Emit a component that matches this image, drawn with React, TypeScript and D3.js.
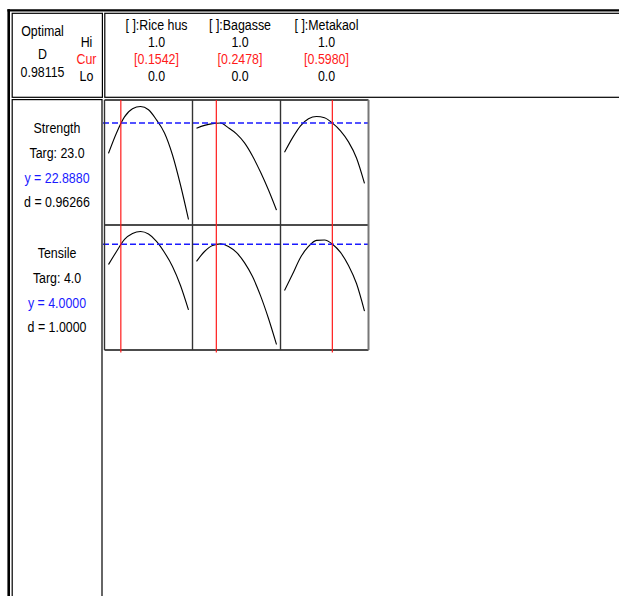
import { useMemo } from "react";
import * as d3 from "d3";

// values
const factors = ["Rice hus", "Bagasse", "Metakaol"];
const factorHi = [1.0, 1.0, 1.0];
const factorLo = [0.0, 0.0, 0.0];
const factorCur = [0.1542, 0.2478, 0.598];

const responses = ["Strength", "Tensile"];
const targets = [23.0, 4.0];
const predicted = [22.888, 4.0];
const desirability = [0.96266, 1.0];
const overallD = 0.98115;

const levels = [0, 0.1, 0.2, 0.3, 0.4, 0.5, 0.6, 0.7, 0.8, 0.9, 1.0];

const strengthRice = [20.85, 22.22, 23.3, 23.85, 24.0, 23.78, 23.1, 22.22, 20.74, 18.72, 16.4];
const strengthBagasse = [22.54, 22.73, 22.85, 22.89, 22.56, 22.16, 21.55, 20.67, 19.59, 18.38, 17.03];
const strengthMetakaol = [20.92, 21.89, 22.7, 23.17, 23.33, 23.24, 22.88, 22.36, 21.62, 20.54, 18.83];

const tensileRice = [3.36, 3.77, 4.15, 4.34, 4.4, 4.32, 4.09, 3.74, 3.3, 2.7, 1.93];
const tensileBagasse = [3.46, 3.77, 3.96, 4.01, 3.93, 3.74, 3.42, 2.98, 2.38, 1.66, 0.84];
const tensileMetakaol = [2.54, 3.05, 3.58, 3.93, 4.12, 4.13, 4.0, 3.74, 3.33, 2.76, 1.89];

const curves = [
  [strengthRice, strengthBagasse, strengthMetakaol],
  [tensileRice, tensileBagasse, tensileMetakaol],
];

// layout
const WIDTH = 619;
const HEIGHT = 596;
const GRID = { left: 104.5, right: 368.5, top: 100, rowH: 125 };
const PAD_X = 4;
const PAD_TOP = 6.5;
const PAD_BOTTOM = 5.5;
const HEADER_X = [156.5, 240, 326.5];
const HEADER_Y = [29.5, 46.5, 63.5, 80.5];
const RED = "#ff1a1a";
const BLUE = "#1a1aff";

// no Arial Narrow installed: squeeze Liberation Sans horizontally instead
const Label = ({ x, y, fill = "#000", children }: { x: number; y: number; fill?: string; children: any }) => (
  <text
    transform={`translate(${x},${y}) scale(0.8,1)`}
    textAnchor="middle"
    fontFamily="'Liberation Sans', Arial, sans-serif"
    fontSize={15.5}
    fill={fill}
  >
    {children}
  </text>
);

export default function App() {
  const cellW = (GRID.right - GRID.left) / factors.length;
  const gridBottom = GRID.top + GRID.rowH * responses.length;

  const xScales = useMemo(
    () =>
      factors.map((_, i) =>
        d3
          .scaleLinear()
          .domain([factorLo[i], factorHi[i]])
          .range([GRID.left + i * cellW + PAD_X, GRID.left + (i + 1) * cellW - PAD_X])
      ),
    [cellW]
  );

  const yScales = useMemo(
    () =>
      responses.map((_, r) => {
        const ext = d3.extent(curves[r].flat()) as [number, number];
        const top = GRID.top + r * GRID.rowH;
        return d3
          .scaleLinear()
          .domain(ext)
          .range([top + GRID.rowH - PAD_BOTTOM, top + PAD_TOP]);
      }),
    []
  );

  return (
    <svg
      width={WIDTH}
      height={HEIGHT}
      style={{ position: "absolute", left: 0, top: 0, background: "#fff" }}
    >
      <rect width={WIDTH} height={HEIGHT} fill="#fff" />

      {/* outer frame */}
      <line x1={8.7} x2={8.7} y1={9.3} y2={HEIGHT} stroke="#000" strokeWidth={2.6} />
      <line x1={7.4} x2={WIDTH} y1={10.4} y2={10.4} stroke="#000" strokeWidth={2.2} />

      {/* header boxes */}
      <rect x={12.2} y={13.3} width={90.2} height={84} fill="none" stroke="#000" strokeWidth={1.2} />
      <rect x={104.8} y={13.3} width={WIDTH} height={84} fill="none" stroke="#000" strokeWidth={1.2} />
      {/* lower left box */}
      <rect x={12.2} y={99.6} width={89.8} height={HEIGHT} fill="none" stroke="#000" strokeWidth={1.2} />

      {/* header left */}
      <Label x={42.5} y={36}>Optimal</Label>
      <Label x={42.5} y={59}>D</Label>
      <Label x={42.5} y={77}>{overallD.toFixed(5)}</Label>
      <Label x={86.5} y={HEADER_Y[1]}>Hi</Label>
      <Label x={86.5} y={HEADER_Y[2]} fill={RED}>Cur</Label>
      <Label x={86.5} y={HEADER_Y[3]}>Lo</Label>

      {/* factor columns */}
      {factors.map((f, i) => (
        <g key={f}>
          <Label x={HEADER_X[i]} y={HEADER_Y[0]}>{`[ ]:${f}`}</Label>
          <Label x={HEADER_X[i]} y={HEADER_Y[1]}>{factorHi[i].toFixed(1)}</Label>
          <Label x={HEADER_X[i]} y={HEADER_Y[2]} fill={RED}>{`[${factorCur[i].toFixed(4)}]`}</Label>
          <Label x={HEADER_X[i]} y={HEADER_Y[3]}>{factorLo[i].toFixed(1)}</Label>
        </g>
      ))}

      {/* response labels */}
      {responses.map((r, k) => {
        const top = GRID.top + k * GRID.rowH;
        return (
          <g key={r}>
            <Label x={57} y={top + 33}>{r}</Label>
            <Label x={57} y={top + 58}>{`Targ: ${targets[k].toFixed(1)}`}</Label>
            <Label x={57} y={top + 82.5} fill={BLUE}>{`y = ${predicted[k].toFixed(4)}`}</Label>
            <Label x={57} y={top + 107}>
              {`d = ${k === 0 ? desirability[k].toFixed(5) : desirability[k].toFixed(4)}`}
            </Label>
          </g>
        );
      })}

      {/* curves */}
      {responses.map((r, k) =>
        factors.map((f, i) => {
          const line = d3
            .line<number>()
            .x((_, j) => xScales[i](levels[j]))
            .y((d) => yScales[k](d))
            .curve(d3.curveMonotoneX);
          return (
            <path
              key={r + f}
              d={line(curves[k][i]) || ""}
              fill="none"
              stroke="#000"
              strokeWidth={1.1}
            />
          );
        })
      )}

      {/* predicted response lines */}
      {responses.map((r, k) => (
        <line
          key={"b" + r}
          x1={GRID.left - 1.5}
          x2={GRID.right + 0.5}
          y1={yScales[k](predicted[k])}
          y2={yScales[k](predicted[k])}
          stroke={BLUE}
          strokeWidth={1.4}
          strokeDasharray="6,3"
        />
      ))}

      {/* grid */}
      {responses.map((r, k) => (
        <line
          key={"h" + r}
          x1={GRID.left}
          x2={GRID.right}
          y1={GRID.top + k * GRID.rowH}
          y2={GRID.top + k * GRID.rowH}
          stroke="#111"
          strokeWidth={1.4}
        />
      ))}
      <line x1={GRID.left} x2={GRID.right} y1={gridBottom} y2={gridBottom} stroke="#111" strokeWidth={1.4} />
      {factors.map((f, i) => (
        <line
          key={"v" + f}
          x1={GRID.left + i * cellW}
          x2={GRID.left + i * cellW}
          y1={GRID.top}
          y2={gridBottom}
          stroke="#333"
          strokeWidth={1.4}
        />
      ))}
      <line x1={GRID.right} x2={GRID.right} y1={GRID.top} y2={gridBottom} stroke="#777" strokeWidth={2} />

      {/* current settings */}
      {factors.map((f, i) => (
        <line
          key={"r" + f}
          x1={xScales[i](factorCur[i])}
          x2={xScales[i](factorCur[i])}
          y1={GRID.top}
          y2={gridBottom + 2.5}
          stroke={RED}
          strokeWidth={1.2}
        />
      ))}
    </svg>
  );
}
